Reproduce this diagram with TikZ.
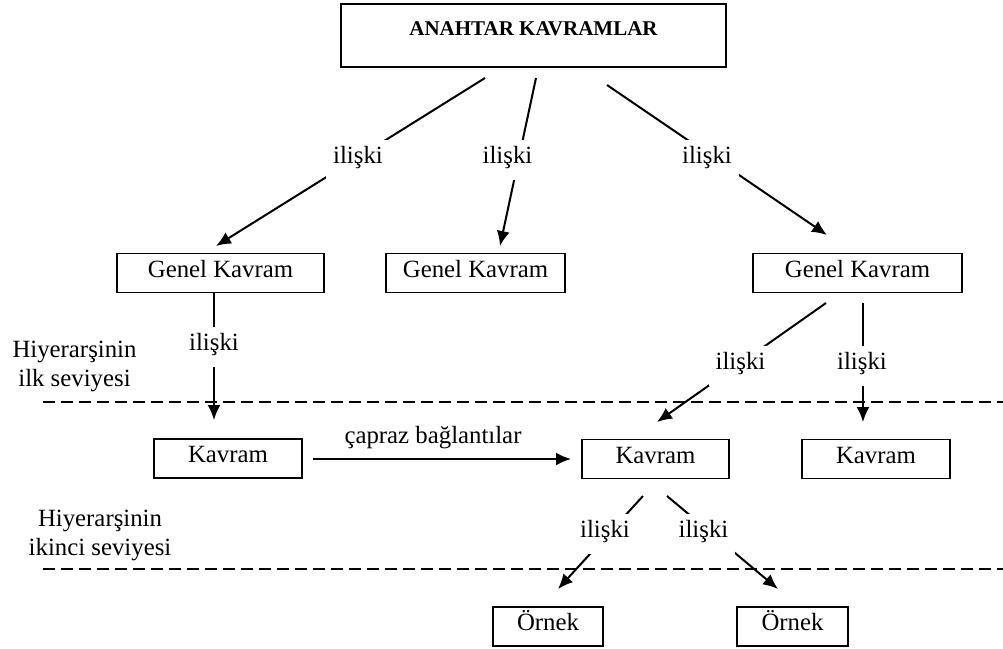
\documentclass[tikz,border=0pt]{standalone}
\usepackage{fontspec}
\setmainfont{Liberation Serif}
\usetikzlibrary{arrows.meta}
\begin{document}
\begin{tikzpicture}[x=0.5pt,y=-0.5pt,
  txt/.style={font=\fontsize{12.4}{14.75}\selectfont},
  box/.style={txt, draw, line width=0.9pt, inner sep=0pt, minimum height=19.5pt,
    text height=8pt, text depth=4pt},
  rel/.style={txt, fill=white, inner xsep=3.5pt, inner ysep=3.5pt,
    text height=8pt, text depth=5pt},
  arr/.style={line width=1pt, -{Latex[length=7.5pt,width=6.5pt]}},
  level/.style={line width=0.8pt, dash pattern=on 6pt off 3pt},
  note/.style={txt, align=center, inner sep=0pt}]
\useasboundingbox (0,0) rectangle (1003,649);

% level separators
\coordinate (sepAl) at (43,402);  \coordinate (sepAr) at (1003,402);
\coordinate (sepBl) at (43,569);  \coordinate (sepBr) at (1003,569);
\draw[level] (sepAl) -- (sepAr);
\draw[level] (sepBl) -- (sepBr);

% concept boxes
\node[box, minimum width=192.5pt, minimum height=31.5pt, text height=7pt, text depth=7pt,
  font=\bfseries\fontsize{10.5}{12}\selectfont] (top) at (533.5,35.5) {ANAHTAR KAVRAMLAR};
\node[box, minimum width=103.5pt] (g1) at (220.5,273) {Genel Kavram};
\node[box, minimum width=89.5pt]  (g2) at (475.5,273) {Genel Kavram};
\node[box, minimum width=104.5pt] (g3) at (857.5,273) {Genel Kavram};
\node[box, minimum width=74pt]    (k1) at (228,458.5) {Kavram};
\node[box, minimum width=73.5pt]  (k2) at (655.5,459) {Kavram};
\node[box, minimum width=74pt]    (k3) at (876,459) {Kavram};
\node[box, minimum width=55pt]    (o1) at (548,626.5) {Örnek};
\node[box, minimum width=55.5pt]  (o2) at (792.5,626.5) {Örnek};

% connector ends
\coordinate (topA) at (485,78);   \coordinate (g1in) at (216,246);
\coordinate (topB) at (536,78);   \coordinate (g2in) at (500,246);
\coordinate (topC) at (607,85);   \coordinate (g3in) at (827,235);
\coordinate (g1out) at (214,292); \coordinate (k1in) at (214,420);
\coordinate (g3outA) at (826,303);\coordinate (k2in) at (657,422);
\coordinate (g3outB) at (863,303);\coordinate (k3in) at (863,422);
\coordinate (k2outA) at (643,496);\coordinate (o1in) at (558,589);
\coordinate (k2outB) at (667,496);\coordinate (o2in) at (778,589);
\coordinate (k1out) at (313,459); \coordinate (k2side) at (571,459);

% relations
\draw[arr] (topA) -- (g1in);
\draw[arr] (topB) -- (g2in);
\draw[arr] (topC) -- (g3in);
\draw[arr] (g1out) -- (k1in);
\draw[arr] (g3outA) -- (k2in);
\draw[arr] (g3outB) -- (k3in);
\draw[arr] (k2outA) -- (o1in);
\draw[arr] (k2outB) -- (o2in);
\draw[arr] (k1out) -- (k2side);

% relation labels
\node[rel] (r1) at (358,160) {ilişki};
\node[rel] (r2) at (507.5,160) {ilişki};
\node[rel] (r3) at (707,160) {ilişki};
\node[rel] (r4) at (214,347) {ilişki};
\node[rel] (r5) at (740.5,366) {ilişki};
\node[rel] (r6) at (862,366) {ilişki};
\node[rel] (r7) at (605,534) {ilişki};
\node[rel] (r8) at (703.5,534) {ilişki};
\node[txt, anchor=base] (cross) at (433,443) {çapraz bağlantılar};

% level notes
\node[note] (lv1) at (74.5,366.5) {Hiyerarşinin\\ilk seviyesi};
\node[note] (lv2) at (100,535.5) {Hiyerarşinin\\ikinci seviyesi};
\end{tikzpicture}
\end{document}
